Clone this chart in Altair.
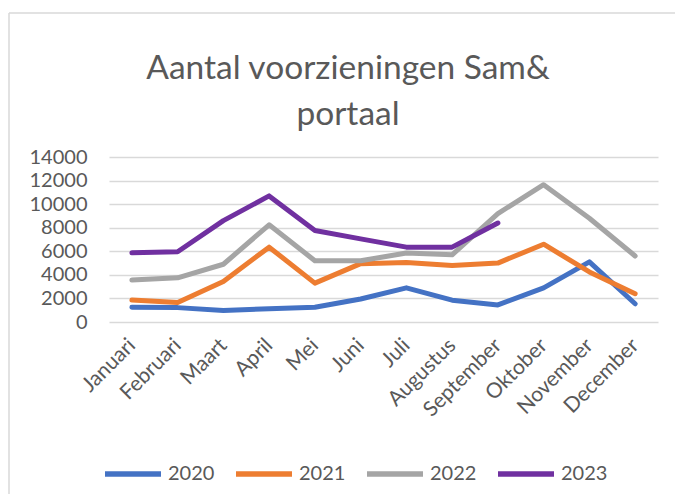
import altair as alt
import pandas as pd

title_lines = ["Aantal voorzieningen Sam&", "portaal"]
months = ["Januari", "Februari", "Maart", "April", "Mei", "Juni", "Juli",
          "Augustus", "September", "Oktober", "November", "December"]
years = ["2020", "2021", "2022", "2023"]
colors = ["#4472C4", "#ED7D31", "#A5A5A5", "#7030A0"]

v2020 = [1250, 1220, 970, 1130, 1250, 1950, 2900, 1850, 1450, 2900, 5100, 1550]
v2021 = [1860, 1650, 3440, 6350, 3300, 4950, 5050, 4800, 5000, 6600, 4250, 2400]
v2022 = [3560, 3750, 4900, 8250, 5200, 5200, 5850, 5700, 9200, 11650, 8800, 5600]
v2023 = [5870, 5960, 8600, 10700, 7770, 7050, 6350, 6350, 8400, None, None, None]

y_ticks = [0, 2000, 4000, 6000, 8000, 10000, 12000, 14000]

rows = []
for yr, vals in zip(years, [v2020, v2021, v2022, v2023]):
    for m, v in zip(months, vals):
        if v is not None:
            rows.append({"Maand": m, "Jaar": yr, "Aantal": v})
df = pd.DataFrame(rows)

FONT = "Lato"
GREY = "#595959"

lines = alt.Chart(df).mark_line(strokeWidth=5, strokeCap="round", strokeJoin="round").encode(
    x=alt.X("Maand:N", sort=months, title=None,
            scale=alt.Scale(type="point", padding=0.5),
            axis=alt.Axis(labelAngle=-45, labelAlign="right", labelBaseline="middle",
                          labelPadding=20, ticks=False, domain=False, grid=False,
                          labelFont=FONT, labelFontSize=21, labelColor=GREY)),
    y=alt.Y("Aantal:Q", title=None, scale=alt.Scale(domain=[0, 14000], nice=False),
            axis=alt.Axis(values=y_ticks, format="d", ticks=False, domain=False, grid=True,
                          gridColor="#d9d9d9", gridWidth=1.5, labelPadding=22,
                          labelFont=FONT, labelFontSize=20, labelColor=GREY)),
    color=alt.Color("Jaar:N", scale=alt.Scale(domain=years, range=colors),
                    legend=alt.Legend(title=None, orient="none", direction="horizontal",
                                      legendX=-7, legendY=286, symbolType="stroke",
                                      symbolSize=3136, symbolStrokeWidth=5.5,
                                      labelFont=FONT, labelFontSize=20, labelColor=GREY,
                                      labelOffset=4, columnPadding=10)),
)

one = pd.DataFrame({"a": [0]})

border_top = alt.Chart(one).mark_rule(stroke="#d9d9d9", strokeWidth=1.5, clip=False).encode(
    x=alt.value(-100), x2=alt.value(2000), y=alt.value(-144))
border_left = alt.Chart(one).mark_rule(stroke="#d9d9d9", strokeWidth=1.5, clip=False).encode(
    x=alt.value(-100), y=alt.value(-144), y2=alt.value(2000))

title = alt.Chart(one).mark_text(
    text=title_lines, font=FONT, fontSize=33.5, color=GREY, lineHeight=46,
    align="center", baseline="alphabetic"
).encode(x=alt.value(239), y=alt.value(-78))

chart = alt.layer(border_top, border_left, title, lines).properties(
    width=549, height=165,
    autosize="none",
    padding={"left": 101, "top": 149, "right": 17, "bottom": 172},
).configure_view(stroke=None)

chart.save("out.html", embed_options={"renderer": "svg", "actions": False})
